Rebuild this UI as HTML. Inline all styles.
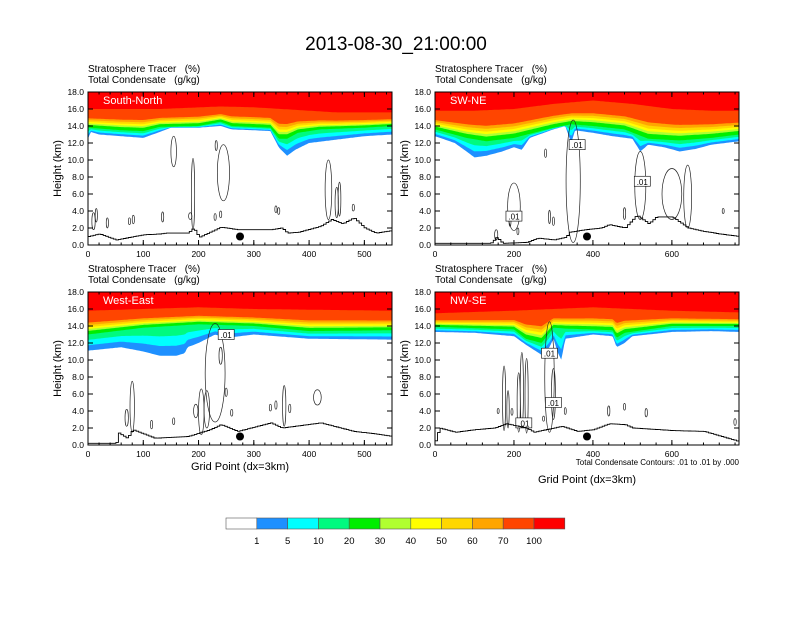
<!DOCTYPE html>
<html><head><meta charset="utf-8"><style>
body{margin:0;background:#fff;}
svg text{font-family:"Liberation Sans",sans-serif;white-space:pre;}
</style></head><body>
<svg id="chart" width="792" height="612" viewBox="0 0 792 612" xmlns="http://www.w3.org/2000/svg">
<rect width="792" height="612" fill="#fff"/>
<text x="396" y="50" text-anchor="middle" font-size="19">2013-08-30_21:00:00</text>
</svg>
<script>
// ---- data ----
const levelColors = ["#1e90ff","#00ffff","#00fa7f","#00ee00","#b0ff30","#ffff00","#ffd700","#ffa500","#ff4500","#ff0000"];
const levelLabels = ["1","5","10","20","30","40","50","60","70","100"];
const panelNames = ["South-North","SW-NE","West-East","NW-SE"];
const panelXMax = [550,770,550,770];
// 1% bottom (km): [grid, km]
const base1_SN = [[0,12.5],[5,13.3],[20,13.0],[60,12.8],[100,12.6],[130,13.3],[150,13.8],[200,13.8],[240,14.0],[260,13.6],[300,13.5],[330,13.4],[345,11.5],[360,10.5],[375,11.2],[400,12.0],[450,12.4],[500,12.8],[550,13.0]];
const base20_SN = [[0,13.8],[60,13.5],[100,13.4],[130,13.9],[200,14.0],[240,14.5],[260,14.0],[330,13.8],[345,12.5],[360,12.5],[380,13.2],[420,13.6],[500,13.8],[550,14.0]];
const base100_SN = [[0,16.0],[130,16.0],[240,16.3],[300,16.2],[400,15.8],[450,15.6],[550,15.6]];
const base1_SWNE = [[0,12.8],[50,12.0],[80,11.0],[100,10.3],[130,10.5],[170,11.0],[200,11.5],[220,11.2],[240,12.6],[300,13.6],[330,14.0],[345,12.0],[355,13.5],[400,13.2],[450,12.8],[500,12.5],[520,11.0],[540,11.8],[580,11.5],[620,11.0],[660,11.3],[700,11.8],[770,12.2]];
const base20_SWNE = [[0,13.6],[80,12.6],[130,12.2],[200,12.6],[300,13.8],[345,14.2],[400,14.0],[480,13.6],[540,12.5],[620,12.3],[700,12.6],[770,13.0]];
const base100_SWNE = [[0,15.8],[100,15.8],[200,16.0],[300,16.6],[400,17.0],[500,16.6],[600,16.0],[700,15.8],[770,15.8]];
const base1_WE = [[0,11.1],[60,11.5],[100,11.0],[130,10.5],[160,10.5],[175,10.8],[180,11.5],[200,12.0],[230,13.0],[250,12.6],[300,13.0],[400,12.5],[550,12.4]];
const base20_WE = [[0,13.0],[100,13.8],[200,14.2],[300,14.0],[400,13.4],[550,13.5]];
const base100_WE = [[0,15.8],[200,16.2],[300,16.0],[550,15.8]];
const base1_NWSE = [[0,13.3],[100,13.2],[200,12.8],[230,11.8],[250,11.2],[270,10.6],[290,11.5],[300,12.5],[310,11.0],[320,10.0],[330,12.5],[400,13.0],[450,12.8],[460,11.5],[480,12.0],[500,12.8],[600,13.3],[700,13.4],[770,13.3]];
const base20_NWSE = [[0,13.9],[200,13.6],[230,12.5],[270,12.0],[300,13.8],[330,13.7],[450,13.5],[460,12.6],[480,13.2],[600,14.0],[770,14.0]];
const base100_NWSE = [[0,15.5],[200,15.8],[400,16.2],[600,15.8],[770,15.6]];
// terrain (km)
const terrain_SN = [[0,1.0],[20,1.3],[50,0.6],[100,1.2],[130,1.3],[140,1.4],[180,1.4],[190,2.0],[200,0.9],[240,2.1],[270,1.8],[330,1.8],[350,2.0],[360,1.4],[380,1.5],[420,2.2],[440,3.0],[460,2.5],[480,3.2],[500,2.0],[520,1.4],[550,1.7]];
const terrain_SWNE = [[0,0.2],[140,0.2],[155,0.9],[170,0.2],[230,0.3],[260,0.8],[300,0.6],[330,0.9],[340,1.5],[380,1.8],[420,2.0],[440,2.4],[480,2.0],[510,3.5],[540,2.5],[560,3.3],[600,3.3],[640,2.0],[680,1.6],[720,1.3],[770,1.0]];
const terrain_WE = [[0,0.2],[50,0.2],[55,1.4],[70,0.8],[80,1.8],[120,0.8],[180,1.0],[220,1.8],[240,2.4],[270,1.6],[330,2.6],[350,2.0],[420,2.6],[480,1.6],[520,1.3],[550,1.0]];
const terrain_NWSE = [[0,0.5],[10,2.0],[50,1.5],[100,1.8],[150,2.0],[180,2.5],[230,2.0],[250,1.5],[280,1.8],[320,2.2],[360,1.6],[400,1.8],[440,2.5],[480,2.4],[500,2.0],[600,1.7],[680,1.6],[740,0.8],[770,0.4]];
// condensate contours: [centerGrid, centerKm, halfWidthGrid, halfHeightKm]
const cloud_SN = [[155,11,5,1.8],[190,6,3,4.2],[245,8.5,11,3.3],[232,11.7,2,0.6],[435,6.5,6,3.5],[450,5,3,1.8],[455,5.4,2.5,2],[10,2.8,3,1],[15,3.5,2,0.8],[35,2.6,2,0.6],[75,2.8,2,0.4],[82,3.0,2,0.5],[135,3.3,2,0.6],[230,3.3,2,0.4],[240,3.6,2,0.4],[340,4.2,2,0.4],[345,4.0,2,0.4],[480,4.4,2,0.4],[185,3.4,3,0.4]];
const cloud_SWNE = [[350,7.5,18,7.2],[520,7,14,4],[600,6,25,3],[640,5.7,10,3.7],[200,4.5,16,2.8],[155,1.2,4,0.6],[280,10.8,2,0.5],[290,3.3,2,0.8],[300,2.8,2,0.5],[190,2.8,2,0.6],[210,1.6,2,0.4],[480,3.7,3,0.7],[730,4,1,0.3]];
const cloud_WE = [[230,8.5,18,5.8],[215,4.2,5,2.2],[205,3.9,5,2.7],[240,10.5,3,1],[80,4.5,4,3.0],[70,3.2,3,1.0],[115,2.4,2,0.5],[155,2.8,2,0.4],[195,4,4,0.8],[250,6.2,2,0.5],[260,3.8,2,0.4],[330,4.4,2,0.4],[340,4.7,2,0.5],[355,4.6,3,2.4],[365,4.3,2,0.5],[415,5.6,7,0.9]];
const cloud_NWSE = [[290,8,12,6.5],[300,6,5,3.0],[175,5.5,4,3.8],[185,4.2,3,2.2],[212,5,4,3.5],[220,6.5,4,4.4],[232,5.8,4,4.4],[160,4,1,0.3],[195,3.9,2,0.4],[275,3.1,2,0.3],[330,4,2,0.4],[440,4,3,0.6],[480,4.5,2,0.4],[535,3.8,3,0.5],[760,2.7,3,0.4]];
const labels_SN = [];
const labels_SWNE = [[200,3.4],[360,11.8],[525,7.5]];
const labels_WE = [[250,13]];
const labels_NWSE = [[290,10.8],[300,5],[225,2.6]];
const dotPos = [[275,1.0],[385,1.0],[275,1.0],[385,1.0]];
const xTickVals = [[0,100,200,300,400,500],[0,200,400,600],[0,100,200,300,400,500],[0,200,400,600]];
const yTickVals = [0,2,4,6,8,10,12,14,16,18];

const panels = [
 {b1:base1_SN,b20:base20_SN,b100:base100_SN,ter:terrain_SN,cl:cloud_SN,lb:labels_SN,x0:88,y0:92},
 {b1:base1_SWNE,b20:base20_SWNE,b100:base100_SWNE,ter:terrain_SWNE,cl:cloud_SWNE,lb:labels_SWNE,x0:435,y0:92},
 {b1:base1_WE,b20:base20_WE,b100:base100_WE,ter:terrain_WE,cl:cloud_WE,lb:labels_WE,x0:88,y0:292},
 {b1:base1_NWSE,b20:base20_NWSE,b100:base100_NWSE,ter:terrain_NWSE,cl:cloud_NWSE,lb:labels_NWSE,x0:435,y0:292}
];
const NS="http://www.w3.org/2000/svg";
const svg=document.getElementById('chart');
function mk(tag,attrs,parent){const e=document.createElementNS(NS,tag);for(const k in attrs)e.setAttribute(k,attrs[k]);(parent||svg).appendChild(e);return e;}
function interp(arr,x){if(x<=arr[0][0])return arr[0][1];for(let i=1;i<arr.length;i++){if(x<=arr[i][0]){const a=arr[i-1],b=arr[i];return a[1]+(b[1]-a[1])*(x-a[0])/(b[0]-a[0]);}}return arr[arr.length-1][1];}
const W=304,H=153;
const frac=[0,1/3,2/3,1,0.15,0.23,0.31,0.40,0.50,1];
panels.forEach((p,pi)=>{
  const xmax=panelXMax[pi];
  const sx=g=>p.x0+g/xmax*W, sy=z=>p.y0+H-z/18*H;
  const g=mk('g',{});
  
  
  const h1=mk('text',{x:p.x0,y:p.y0-20,'font-size':10},g);h1.textContent='Stratosphere Tracer   (%)';
  
  const h2=mk('text',{x:p.x0,y:p.y0-9,'font-size':10},g);h2.textContent='Total Condensate   (g/kg)';
  
  const step=xmax/200;
  for(let L=0;L<10;L++){
    let pts=[];
    for(let x=0;x<=xmax+1e-6;x+=step){
      const b1=interp(p.b1,x),b20=interp(p.b20,x),b100=interp(p.b100,x);
      const z=L<=3?b1+(b20-b1)*frac[L]:b20+(b100-b20)*frac[L];
      pts.push(sx(x).toFixed(1)+','+sy(Math.min(z,18)).toFixed(1));
    }
    pts.push(sx(xmax)+','+sy(18));pts.push(sx(0)+','+sy(18));
    const pg=mk('polygon',{points:pts.join(' '),fill:levelColors[L]},g);
    
    
  }
  p.cl.forEach(c=>{
    const e=mk('ellipse',{cx:sx(c[0]),cy:sy(c[1]),rx:Math.max(1,c[2]/xmax*W),ry:c[3]/18*H,fill:'none',stroke:'#222','stroke-width':0.7},g);
    
    
  });
  p.lb.forEach(l=>{
    const r=mk('rect',{x:sx(l[0])-8,y:sy(l[1])-5,width:16,height:10,fill:'#fff',stroke:'#000','stroke-width':0.6},g);
    
    const t=mk('text',{x:sx(l[0]),y:sy(l[1])+3.5,'font-size':8,'text-anchor':'middle'},g);t.textContent='.01';
    
  });
  let tp=[];
  for(let x=0;x<=xmax+1e-6;x+=xmax/120){
    const y=sy(interp(p.ter,x));tp.push(sx(x).toFixed(1)+','+y.toFixed(1));tp.push(sx(Math.min(x+xmax/120,xmax)).toFixed(1)+','+y.toFixed(1));
  }
  const tl=mk('polyline',{points:tp.join(' '),fill:'none',stroke:'#000','stroke-width':0.9},g);
  
  const d=mk('circle',{cx:sx(dotPos[pi][0]),cy:sy(dotPos[pi][1]),r:4,fill:'#000'},g);
  
  const nm=mk('text',{x:p.x0+15,y:p.y0+12,'font-size':11,fill:'#fff'},g);nm.textContent=panelNames[pi];
  
  const fr=mk('rect',{x:p.x0,y:p.y0,width:W,height:H,fill:'none',stroke:'#000','stroke-width':1},g);
  
  yTickVals.forEach(v=>{
    const y=sy(v);
    mk('line',{x1:p.x0,x2:p.x0+5,y1:y,y2:y,stroke:'#000'},g);
    mk('line',{x1:p.x0+W,x2:p.x0+W-5,y1:y,y2:y,stroke:'#000'},g);
    const t=mk('text',{x:p.x0-4,y:y+3,'font-size':8.5,'text-anchor':'end'},g);t.textContent=v.toFixed(1);
    
  });
  const mstep=xTickVals[pi][1]/5;
  for(let v=0;v<=xmax;v+=mstep){const x=sx(v);
    mk('line',{x1:x,x2:x,y1:p.y0+H,y2:p.y0+H-2.5,stroke:'#000'},g);mk('line',{x1:x,x2:x,y1:p.y0,y2:p.y0+2.5,stroke:'#000'},g);}
  xTickVals[pi].forEach(v=>{
    const x=sx(v);
    mk('line',{x1:x,x2:x,y1:p.y0+H,y2:p.y0+H-5,stroke:'#000'},g);
    mk('line',{x1:x,x2:x,y1:p.y0,y2:p.y0+5,stroke:'#000'},g);
    const t=mk('text',{x:x,y:p.y0+H+12,'font-size':8.5,'text-anchor':'middle'},g);t.textContent=v;
    
  });
  const yl=mk('text',{x:0,y:0,'font-size':11,'text-anchor':'middle',transform:`translate(${p.x0-27},${p.y0+H/2}) rotate(-90)`},g);
  yl.textContent='Height (km)';
});
let t1=mk('text',{x:240,y:470,'font-size':11,'text-anchor':'middle'});t1.textContent='Grid Point (dx=3km)';

let t2=mk('text',{x:587,y:483,'font-size':11,'text-anchor':'middle'});t2.textContent='Grid Point (dx=3km)';

let t3=mk('text',{x:739,y:465,'font-size':8,'text-anchor':'end'});t3.textContent='Total Condensate Contours: .01 to .01 by .000';

const cbColors=["#ffffff"].concat(levelColors);
const cbX=226,cbW=30.8;
cbColors.forEach((c,i)=>{
  const r=mk('rect',{x:cbX+i*cbW,y:518,width:cbW,height:11,fill:c,stroke:'#555','stroke-width':0.6});
  
});
levelLabels.forEach((l,i)=>{
  const t=mk('text',{x:cbX+(i+1)*cbW,y:544,'font-size':9.5,'text-anchor':'middle'});t.textContent=l;
  
});
</script>
</body></html>
